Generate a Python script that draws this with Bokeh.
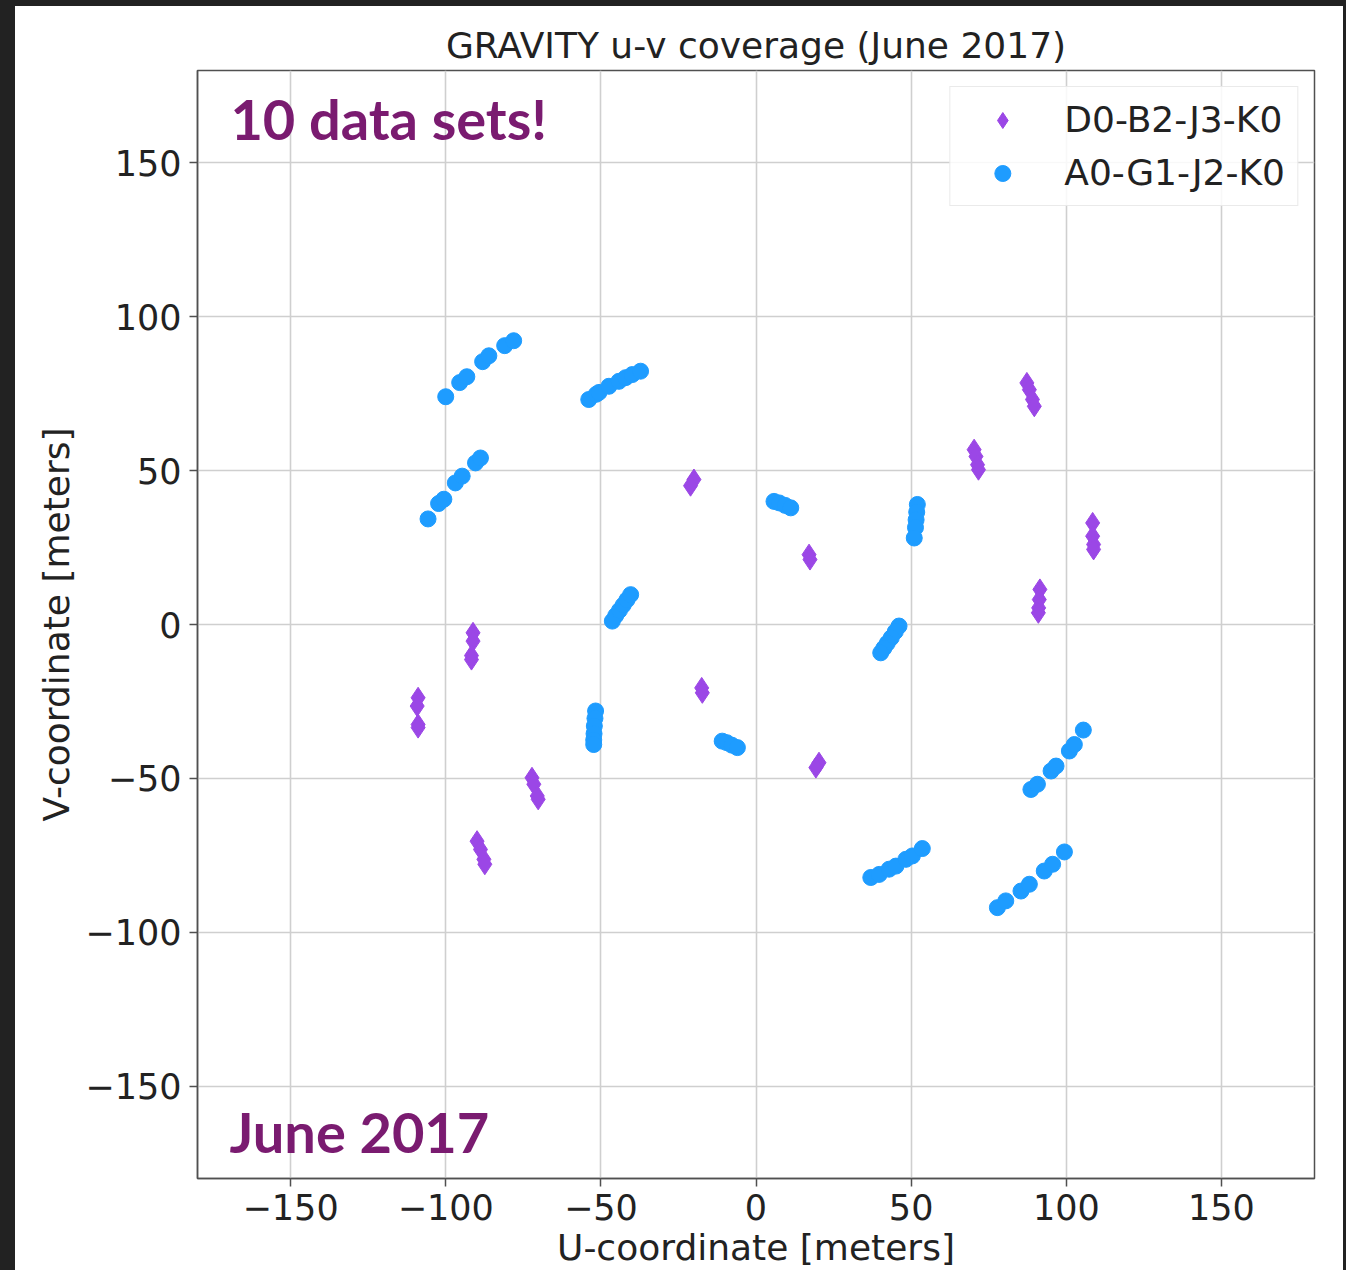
from bokeh.plotting import figure
from bokeh.models import (Label, Legend, LegendItem, FixedTicker,
                          CustomJSTickFormatter, Spacer, Range1d)
from bokeh.layouts import row, column
from bokeh.embed import file_html
from bokeh.resources import INLINE

# ---------------- data ----------------
title_text = "GRAVITY u-v coverage (June 2017)"
x_label = "U-coordinate [meters]"
y_label = "V-coordinate [meters]"
tick_values = [-150, -100, -50, 0, 50, 100, 150]
series_names = ["D0-B2-J3-K0", "A0-G1-J2-K0"]
note_top = "10 data sets!"
note_bottom = "June 2017"

# D0-B2-J3-K0 (purple diamonds)
d0_u = [-108.9, -109.2, -108.9, -108.9,
        -91.2, -91.2, -91.7, -91.7,
        -72.2, -71.6, -70.5, -70.2,
        -89.9, -88.8, -87.7, -87.4,
        -17.5, -17.3,
        -20.0, -21.1,
        17.1, 17.4,
        20.3, 19.3,
        70.3, 70.9, 71.4, 71.7,
        87.3, 88.1, 89.1, 89.7,
        108.5, 108.5, 108.8, 108.8,
        91.5, 91.3, 91.1, 91.0]
d0_v = [-23.8, -26.5, -32.5, -33.5,
        -2.7, -5.4, -10.1, -11.4,
        -49.8, -51.9, -55.7, -56.8,
        -70.4, -73.1, -76.3, -77.9,
        -20.6, -22.2,
        47.1, 45.1,
        22.7, 21.1,
        -44.9, -46.5,
        56.8, 54.6, 51.9, 50.3,
        78.5, 76.3, 73.1, 70.9,
        33.0, 28.7, 26.0, 24.4,
        11.4, 8.1, 5.4, 3.8]

# A0-G1-J2-K0 (blue circles)
a0_u = [-100.0, -95.5, -93.2, -88.1, -86.1, -81.0, -78.1,
        -105.7, -102.3, -100.6, -96.9, -94.7, -90.4, -88.8,
        -53.9, -51.5, -50.6, -47.4, -44.2, -42.0, -39.9, -37.2,
        -46.3, -45.2, -44.0, -42.8, -41.6, -40.4,
        -51.7, -51.9, -52.1, -52.2, -52.3, -52.3,
        -10.9, -9.4, -7.8, -6.0,
        5.8, 7.5, 9.4, 11.2,
        52.0, 51.8, 51.6, 51.4, 51.0,
        46.1, 44.9, 43.6, 42.3, 41.2, 40.2,
        37.0, 39.7, 42.9, 45.1, 48.3, 50.4, 53.6,
        77.8, 80.5, 85.4, 88.1, 92.9, 95.6, 99.4,
        88.6, 90.7, 95.1, 96.7, 101.0, 102.6, 105.5]
a0_v = [74.0, 78.6, 80.5, 85.4, 87.3, 90.6, 92.2,
        34.3, 39.3, 40.7, 46.0, 48.2, 52.5, 54.1,
        73.1, 74.8, 75.4, 77.4, 79.0, 80.2, 81.2, 82.3,
        1.1, 2.9, 4.6, 6.3, 8.0, 9.7,
        -28.1, -30.5, -33.0, -35.5, -37.5, -39.0,
        -37.9, -38.4, -39.2, -40.0,
        40.0, 39.5, 38.7, 37.9,
        39.0, 36.5, 34.0, 31.5, 28.1,
        -0.5, -2.3, -4.3, -6.1, -7.7, -9.2,
        -82.2, -81.2, -79.5, -78.5, -76.3, -75.2, -72.8,
        -92.0, -89.8, -86.6, -84.4, -80.1, -77.9, -73.9,
        -53.6, -51.9, -47.6, -46.0, -41.1, -39.0, -34.3]

PURPLE = "#9B47E6"
BLUE = "#1E9CFF"
NOTE = "#7A1B70"
TXT = "#222222"
DARK = "#222222"

p = figure(width=1328, height=1264,
           x_range=Range1d(-180, 180), y_range=Range1d(-180, 180),
           output_backend="svg", toolbar_location=None,
           min_border_left=182, min_border_right=29,
           min_border_top=64, min_border_bottom=92,
           title=title_text)

p.title.align = "center"
p.title.text_font = "DejaVu Sans"
p.title.text_font_size = "36px"
p.title.text_font_style = "normal"
p.title.text_color = TXT

p.background_fill_color = "white"
p.border_fill_color = "white"
p.outline_line_color = "#505050"
p.outline_line_width = 1.5

for ax in (p.xaxis, p.yaxis):
    ax.ticker = FixedTicker(ticks=tick_values)
    ax.formatter = CustomJSTickFormatter(
        code="return tick < 0 ? '\\u2212' + (-tick) : String(tick);")
    ax.major_label_text_font = "DejaVu Sans"
    ax.major_label_text_font_size = "35px"
    ax.major_label_text_color = TXT
    ax.major_tick_out = 8
    ax.major_tick_in = 0
    ax.major_tick_line_color = "#505050"
    ax.major_tick_line_width = 1.5
    ax.minor_tick_out = 0
    ax.minor_tick_in = 0
    ax.axis_line_color = "#505050"
    ax.axis_line_width = 1.5
    ax.axis_label_text_font = "DejaVu Sans"
    ax.axis_label_text_font_size = "36px"
    ax.axis_label_text_font_style = "normal"
    ax.axis_label_text_color = TXT

p.xaxis.axis_label = x_label
p.yaxis.axis_label = y_label
p.xaxis.major_label_standoff = 7
p.xaxis.axis_label_standoff = 4
p.yaxis.major_label_standoff = 8
p.yaxis.axis_label_standoff = 5

p.grid.grid_line_color = "#cfcfcf"
p.grid.grid_line_width = 1.6

r1 = p.scatter(d0_u, d0_v, marker="diamond", size=21,
               fill_color=PURPLE, line_color=PURPLE)
r2 = p.scatter(a0_u, a0_v, marker="circle", size=16,
               fill_color=BLUE, line_color=BLUE)

legend = Legend(items=[LegendItem(label=series_names[0], renderers=[r1]),
                       LegendItem(label=series_names[1], renderers=[r2])],
                location="top_right")
legend.margin = 16
legend.padding = 12
legend.spacing = 12
legend.label_height = 40
legend.glyph_height = 40
legend.glyph_width = 80
legend.label_standoff = 22
legend.label_text_font = "DejaVu Sans"
legend.label_text_font_size = "36px"
legend.label_text_color = TXT
legend.border_line_color = "#d6d6d6"
legend.border_line_width = 1.5
legend.background_fill_color = "white"
legend.background_fill_alpha = 0.85
p.add_layout(legend)

p.add_layout(Label(x=-169.4, y=164.5, text=note_top, text_font="Lato",
                   text_font_style="bold", text_font_size="56px",
                   text_color=NOTE, text_baseline="middle"))
p.add_layout(Label(x=-169.7, y=-164.7, text=note_bottom, text_font="Lato",
                   text_font_style="bold", text_font_size="56px",
                   text_color=NOTE, text_baseline="middle"))

top_bar = Spacer(width=1346, height=6, styles={"background-color": DARK})
left_bar = Spacer(width=15, height=1264, styles={"background-color": DARK})
right_bar = Spacer(width=3, height=1264, styles={"background-color": DARK})
layout = column(top_bar, row(left_bar, p, right_bar))

open("out.html", "w").write(file_html(layout, INLINE))
